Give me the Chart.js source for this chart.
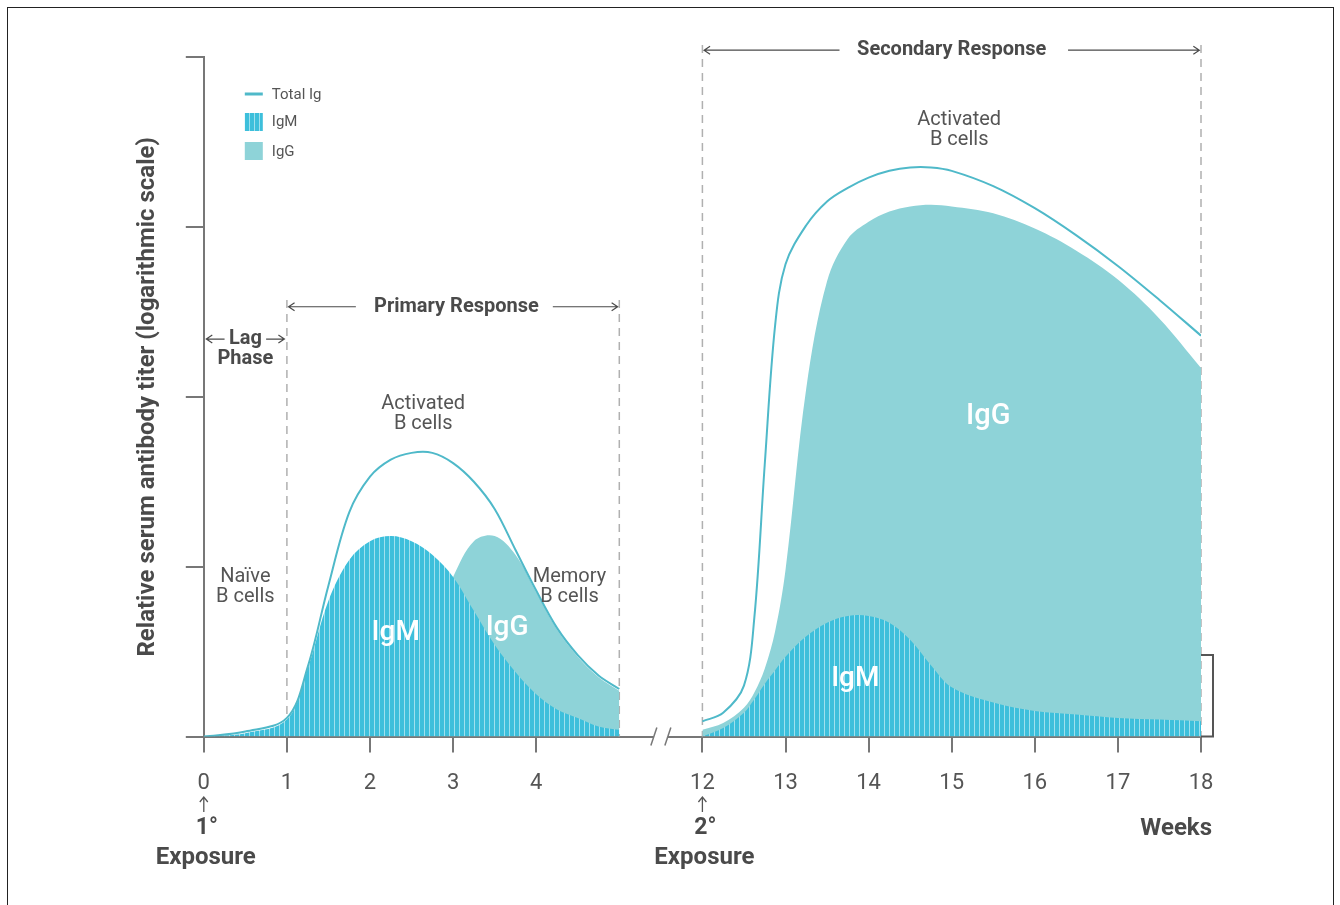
<!DOCTYPE html>
<html lang="en">

<head>
    <meta charset="UTF-8">
    <title>Primary and secondary antibody response</title>
    <script src="https://cdn.jsdelivr.net/npm/chart.js"></script>
    <style>
        body { margin: 0; background: #fff; overflow: hidden; }
        .frame { position: absolute; left: 7px; top: 7px; width: 1325px; height: 940px; border: 1px solid #222; }
        .graph { position: absolute; left: 0; top: 0; width: 1340px; height: 905px; }
    </style>
</head>

<body>
    <div class="frame"></div>
    <div class="graph">
        <canvas id="graficoCanvas"></canvas>
    </div>
</body>

</html>

<script>
    // weeks 0-5 and 12-18, values in log-titer steps (0-4)
    const primaryWeeks = [0, 0.5, 1, 1.25, 1.5, 1.75, 2, 2.25, 2.5, 2.75, 3, 3.25, 3.5, 3.75, 4, 4.25, 4.5, 4.75, 5];
    const primaryTotal = [0, 0.03, 0.11, 0.41, 0.89, 1.32, 1.53, 1.63, 1.67, 1.67, 1.61, 1.50, 1.34, 1.10, 0.86, 0.64, 0.48, 0.36, 0.28];
    const primaryIgM = [0, 0.02, 0.10, 0.40, 0.80, 1.04, 1.15, 1.18, 1.15, 1.07, 0.94, 0.74, 0.54, 0.38, 0.25, 0.16, 0.11, 0.06, 0.04];
    const primaryIgG = [0, 0, 0, 0, 0.02, 0.05, 0.10, 0.20, 0.38, 0.65, 0.94, 1.15, 1.18, 1.07, 0.85, 0.63, 0.47, 0.35, 0.27];

    const secondaryWeeks = [12, 12.25, 12.5, 12.625, 12.75, 12.875, 13, 13.25, 13.5, 13.75, 14, 14.25, 14.5, 14.75, 15, 15.5, 16, 16.5, 17, 17.5, 18];
    const secondaryTotal = [0.09, 0.14, 0.30, 0.70, 1.60, 2.42, 2.78, 3.01, 3.15, 3.23, 3.29, 3.33, 3.35, 3.35, 3.33, 3.24, 3.11, 2.95, 2.77, 2.57, 2.36];
    const secondaryIgG = [0.04, 0.08, 0.17, 0.26, 0.40, 0.62, 0.98, 2.05, 2.68, 2.93, 3.03, 3.09, 3.12, 3.13, 3.12, 3.08, 2.99, 2.86, 2.69, 2.46, 2.17];
    const secondaryIgM = [0, 0.05, 0.14, 0.22, 0.31, 0.39, 0.47, 0.59, 0.67, 0.71, 0.71, 0.67, 0.57, 0.42, 0.29, 0.20, 0.15, 0.13, 0.11, 0.10, 0.09];

    const tickWeeks = [0, 1, 2, 3, 4, 12, 13, 14, 15, 16, 17, 18];
    const yTicks = [0, 1, 2, 3, 4];

    const corIgM = '#3dbfdb';
    const corIgG = '#8ed3d8';
    const corTotal = '#4fb9c9';
    const cinza = '#555';
    const cinzaEscuro = '#4a4a4a';

    // axis break: weeks 6-11 are cut out
    const pos = w => (w <= 5 ? w : w - 6);
    const pontos = (semanas, valores) => semanas.map((w, i) => ({ x: pos(w), y: valores[i] }));

    function listrado(cor, listra) {
        const c = document.createElement('canvas');
        c.width = 5;
        c.height = 10;
        const g = c.getContext('2d');
        g.fillStyle = cor;
        g.fillRect(0, 0, 5, 10);
        g.fillStyle = listra;
        g.fillRect(4, 0, 1, 10);
        return g.createPattern(c, 'repeat');
    }
    const padraoIgM = listrado(corIgM, '#9fe0ee');

    function linha(label, data) {
        return { label, data, borderColor: corTotal, borderWidth: 2, fill: false, order: 0 };
    }
    function area(label, data, cor, ordem) {
        return { label, data, backgroundColor: cor, borderColor: 'rgba(0,0,0,0)', borderWidth: 0, fill: 'origin', order: ordem };
    }

    function texto(ctx, s, x, y, font, cor, align) {
        ctx.font = font;
        ctx.fillStyle = cor;
        ctx.textAlign = align || 'center';
        ctx.textBaseline = 'middle';
        ctx.fillText(s, x, y);
    }

    function seta(ctx, x1, x2, y) {
        const d = x2 > x1 ? -1 : 1;
        ctx.beginPath();
        ctx.moveTo(x1, y);
        ctx.lineTo(x2, y);
        ctx.moveTo(x2 + d * 6, y - 4);
        ctx.lineTo(x2, y);
        ctx.lineTo(x2 + d * 6, y + 4);
        ctx.stroke();
    }

    function setaCima(ctx, x, y1, y2) {
        ctx.beginPath();
        ctx.moveTo(x, y1);
        ctx.lineTo(x, y2);
        ctx.moveTo(x - 4, y2 + 5);
        ctx.lineTo(x, y2);
        ctx.lineTo(x + 4, y2 + 5);
        ctx.stroke();
    }

    const anotacoes = {
        id: 'anotacoes',
        beforeDatasetsDraw(chart) {
            const { ctx, scales: { x, y } } = chart;
            ctx.save();
            ctx.strokeStyle = '#b0b0b0';
            ctx.lineWidth = 1.5;
            ctx.setLineDash([8, 6]);
            [[1, 2.57], [5, 2.57], [12, 4.07], [18, 4.07]].forEach(([w, topo]) => {
                const px = x.getPixelForValue(pos(w));
                ctx.beginPath();
                ctx.moveTo(px, y.getPixelForValue(topo));
                ctx.lineTo(px, y.getPixelForValue(0));
                ctx.stroke();
            });
            ctx.restore();
        },
        afterDraw(chart) {
            const { ctx, chartArea, scales: { x, y } } = chart;
            const px = w => x.getPixelForValue(pos(w));
            const py = v => y.getPixelForValue(v);
            ctx.save();

            // axis break
            const base = py(0);
            const xb = (px(5) + px(12)) / 2;
            ctx.fillStyle = '#fff';
            ctx.fillRect(xb - 7, base - 3, 14, 6);
            ctx.strokeStyle = '#777';
            ctx.lineWidth = 1.5;
            [xb - 7, xb + 7].forEach(sx => {
                ctx.beginPath();
                ctx.moveTo(sx - 3, base + 9);
                ctx.lineTo(sx + 3, base - 9);
                ctx.stroke();
            });

            // bracket at the right end
            ctx.strokeStyle = '#555';
            ctx.lineWidth = 2;
            ctx.beginPath();
            ctx.moveTo(chartArea.right, py(0.48));
            ctx.lineTo(chartArea.right + 12, py(0.48));
            ctx.lineTo(chartArea.right + 12, base);
            ctx.lineTo(chartArea.right, base);
            ctx.stroke();

            // legend
            const lx = chartArea.left + 41;
            ctx.strokeStyle = corTotal;
            ctx.lineWidth = 3;
            ctx.beginPath();
            ctx.moveTo(lx, 94);
            ctx.lineTo(lx + 18, 94);
            ctx.stroke();
            ctx.fillStyle = padraoIgM;
            ctx.fillRect(lx, 113, 18, 18);
            ctx.fillStyle = corIgG;
            ctx.fillRect(lx, 142, 18, 18);
            texto(ctx, 'Total Ig', lx + 27, 95, '15px Roboto', cinza, 'left');
            texto(ctx, 'IgM', lx + 27, 122, '15px Roboto', cinza, 'left');
            texto(ctx, 'IgG', lx + 27, 152, '15px Roboto', cinza, 'left');

            // phase headings
            const fb = 'bold 20px Roboto';
            ctx.strokeStyle = cinzaEscuro;
            ctx.lineWidth = 1.2;
            texto(ctx, 'Lag', px(0.5), py(2.34), fb, cinzaEscuro);
            texto(ctx, 'Phase', px(0.5), py(2.22), fb, cinzaEscuro);
            seta(ctx, px(0.25), px(0.03), py(2.34));
            seta(ctx, px(0.75), px(0.97), py(2.34));

            texto(ctx, 'Primary Response', px(3.04), py(2.53), fb, cinzaEscuro);
            seta(ctx, px(1.83), px(1.02), py(2.53));
            seta(ctx, px(4.2), px(4.98), py(2.53));

            texto(ctx, 'Secondary Response', px(15), py(4.04), fb, cinzaEscuro);
            seta(ctx, px(13.65), px(12.02), py(4.04));
            seta(ctx, px(16.4), px(17.98), py(4.04));

            // cell labels
            const f = '20px Roboto';
            texto(ctx, 'Activated', px(2.64), py(1.96), f, cinza);
            texto(ctx, 'B cells', px(2.64), py(1.84), f, cinza);
            texto(ctx, 'Activated', px(15.09), py(3.63), f, cinza);
            texto(ctx, 'B cells', px(15.09), py(3.51), f, cinza);
            texto(ctx, 'Naïve', px(0.5), py(0.94), f, cinza);
            texto(ctx, 'B cells', px(0.5), py(0.82), f, cinza);
            texto(ctx, 'Memory', px(4.4), py(0.94), f, cinza);
            texto(ctx, 'B cells', px(4.4), py(0.82), f, cinza);

            // area labels
            texto(ctx, 'IgM', px(2.31), py(0.61), '500 28px Roboto', '#fff');
            texto(ctx, 'IgG', px(3.65), py(0.64), '500 28px Roboto', '#fff');
            texto(ctx, 'IgG', px(15.44), py(1.88), '500 29px Roboto', '#fff');
            texto(ctx, 'IgM', px(13.84), py(0.34), '500 28px Roboto', '#fff');

            // exposures
            ctx.strokeStyle = cinza;
            ctx.lineWidth = 1.3;
            [[0, '1°'], [12, '2°']].forEach(([w, s]) => {
                setaCima(ctx, px(w), 812, 797);
                texto(ctx, s, px(w) + 3, 828, 'bold 23px Roboto', cinzaEscuro);
                texto(ctx, 'Exposure', px(w) + 2, 858, 'bold 24px Roboto', cinzaEscuro);
            });
            texto(ctx, 'Weeks', chartArea.right + 11, 829, 'bold 24px Roboto', cinzaEscuro, 'right');

            ctx.restore();
        }
    };

    Chart.defaults.font.family = 'Roboto';

    const config = {
        type: 'line',
        data: {
            datasets: [
                linha('Total Ig', pontos(primaryWeeks, primaryTotal)),
                area('IgM', pontos(primaryWeeks, primaryIgM), padraoIgM, 1),
                area('IgG', pontos(primaryWeeks, primaryIgG), corIgG, 2),
                linha('Total Ig', pontos(secondaryWeeks, secondaryTotal)),
                area('IgM', pontos(secondaryWeeks, secondaryIgM), padraoIgM, 1),
                area('IgG', pontos(secondaryWeeks, secondaryIgG), corIgG, 2)
            ]
        },
        options: {
            responsive: true,
            maintainAspectRatio: false,
            animation: false,
            elements: { point: { radius: 0 }, line: { tension: 0.35 } },
            layout: { padding: { left: 134, right: 139, top: 57, bottom: 90 } },
            plugins: {
                legend: { display: false },
                tooltip: { enabled: false }
            },
            scales: {
                x: {
                    type: 'linear',
                    min: 0,
                    max: pos(18),
                    afterBuildTicks: axis => { axis.ticks = tickWeeks.map(w => ({ value: pos(w) })); },
                    ticks: {
                        autoSkip: false,
                        maxRotation: 0,
                        padding: 18,
                        color: cinza,
                        font: { size: 22 },
                        callback: v => (v <= 5 ? v : v + 6)
                    },
                    grid: { drawOnChartArea: false, tickLength: 16, color: '#777', lineWidth: 2 },
                    border: { color: '#777', width: 2 }
                },
                y: {
                    min: 0,
                    max: 4,
                    afterBuildTicks: axis => { axis.ticks = yTicks.map(v => ({ value: v })); },
                    ticks: { display: false },
                    grid: { drawOnChartArea: false, tickLength: 18, color: '#777', lineWidth: 2 },
                    border: { color: '#777', width: 2 },
                    title: {
                        display: true,
                        text: 'Relative serum antibody titer (logarithmic scale)',
                        color: cinzaEscuro,
                        font: { size: 24, weight: 'bold' },
                        padding: { top: 0, bottom: 23 }
                    }
                }
            }
        },
        plugins: [anotacoes]
    };

    const grafico = new Chart(document.getElementById('graficoCanvas').getContext('2d'), config);
</script>
